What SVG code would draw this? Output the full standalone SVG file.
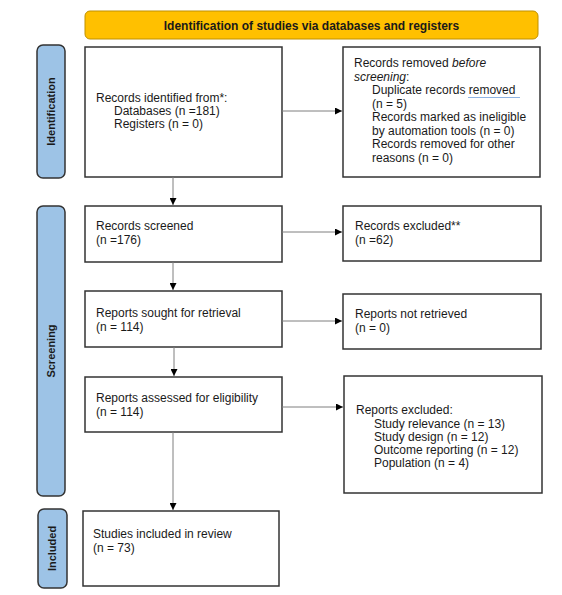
<svg xmlns="http://www.w3.org/2000/svg" width="562" height="595" viewBox="0 0 562 595">
<defs>
<style>
text{font-family:"Liberation Sans",Arial,sans-serif;font-size:12px;fill:#1a1a1a}
.box{fill:#fff;stroke:#333;stroke-width:1.5}
.side{fill:#9dc3e6;stroke:#333;stroke-width:1.5}
.sidet{font-weight:bold;font-size:11px;text-anchor:middle}
.con{stroke:#7f7f7f;stroke-width:1;fill:none}
</style>
<marker id="ah" viewBox="0 0 10 10" refX="10" refY="5" markerWidth="7" markerHeight="7" markerUnits="userSpaceOnUse" orient="auto">
<path d="M0,0 L10,5 L0,10 z" fill="#000"/>
</marker>
</defs>
<rect width="562" height="595" fill="#fff"/>
<g id="header">
<rect x="85" y="11" width="453" height="28" rx="5" fill="#ffc000" stroke="#bf9000" stroke-width="1"/>
<text x="311.5" y="29.5" text-anchor="middle" style="font-weight:bold;font-size:12px">Identification of studies via databases and registers</text>
</g>
<g id="side-identification">
<rect class="side" x="37" y="45" width="28" height="133" rx="6"/>
<text class="sidet" transform="translate(55,111.5) rotate(-90)">Identification</text>
</g>
<g id="side-screening">
<rect class="side" x="37" y="206" width="28" height="290" rx="6"/>
<text class="sidet" transform="translate(55,351) rotate(-90)">Screening</text>
</g>
<g id="side-included">
<rect class="side" x="38" y="509" width="29" height="79" rx="6"/>
<text class="sidet" transform="translate(56,548.5) rotate(-90)">Included</text>
</g>
<g id="identified">
<rect class="box" x="85" y="47" width="197" height="130"/>
<text x="96" y="102">Records identified from*:</text>
<text x="114" y="115">Databases (n =181)</text>
<text x="114" y="128">Registers (n = 0)</text>
</g>
<g id="removed">
<rect class="box" x="343" y="47" width="197" height="130"/>
<text x="354" y="67">Records removed <tspan font-style="italic">before</tspan></text>
<text x="354" y="81"><tspan font-style="italic">screening</tspan>:</text>
<text x="372" y="94">Duplicate records removed</text>
<line x1="468" y1="97.5" x2="520" y2="97.5" stroke="#8fb4e3" stroke-width="1"/>
<text x="372" y="108">(n = 5)</text>
<text x="372" y="121">Records marked as ineligible</text>
<text x="372" y="135">by automation tools (n = 0)</text>
<text x="372" y="148">Records removed for other</text>
<text x="372" y="162">reasons (n = 0)</text>
</g>
<g id="screened">
<rect class="box" x="85" y="206" width="197" height="56"/>
<text x="96" y="230">Records screened</text>
<text x="96" y="244">(n =176)</text>
</g>
<g id="excluded">
<rect class="box" x="343" y="206" width="198" height="55"/>
<text x="355" y="230">Records excluded**</text>
<text x="355" y="244">(n =62)</text>
</g>
<g id="sought">
<rect class="box" x="85" y="291" width="197" height="56"/>
<text x="96" y="317">Reports sought for retrieval</text>
<text x="96" y="331">(n = 114)</text>
</g>
<g id="notretrieved">
<rect class="box" x="343" y="294" width="198" height="55"/>
<text x="355" y="318">Reports not retrieved</text>
<text x="355" y="332">(n = 0)</text>
</g>
<g id="assessed">
<rect class="box" x="85" y="377" width="197" height="55"/>
<text x="96" y="402">Reports assessed for eligibility</text>
<text x="96" y="416">(n = 114)</text>
</g>
<g id="reportsexcluded">
<rect class="box" x="344" y="376" width="198" height="117"/>
<text x="356" y="414">Reports excluded:</text>
<text x="374" y="428">Study relevance (n = 13)</text>
<text x="374" y="441">Study design (n = 12)</text>
<text x="374" y="454">Outcome reporting (n = 12)</text>
<text x="374" y="467">Population (n = 4)</text>
</g>
<g id="included">
<rect class="box" x="83" y="511" width="196" height="75"/>
<text x="93" y="538">Studies included in review</text>
<text x="93" y="552">(n = 73)</text>
</g>
<g id="connectors">
<line class="con" x1="173" y1="177" x2="173" y2="205" marker-end="url(#ah)"/>
<line class="con" x1="173" y1="262" x2="173" y2="290" marker-end="url(#ah)"/>
<line class="con" x1="174" y1="347" x2="174" y2="376" marker-end="url(#ah)"/>
<line class="con" x1="173" y1="432" x2="173" y2="510" marker-end="url(#ah)"/>
<line class="con" x1="282" y1="111" x2="342" y2="111" marker-end="url(#ah)"/>
<line class="con" x1="282" y1="232" x2="342" y2="232" marker-end="url(#ah)"/>
<line class="con" x1="282" y1="321" x2="342" y2="321" marker-end="url(#ah)"/>
<line class="con" x1="282" y1="407" x2="343" y2="407" marker-end="url(#ah)"/>
</g>
</svg>
